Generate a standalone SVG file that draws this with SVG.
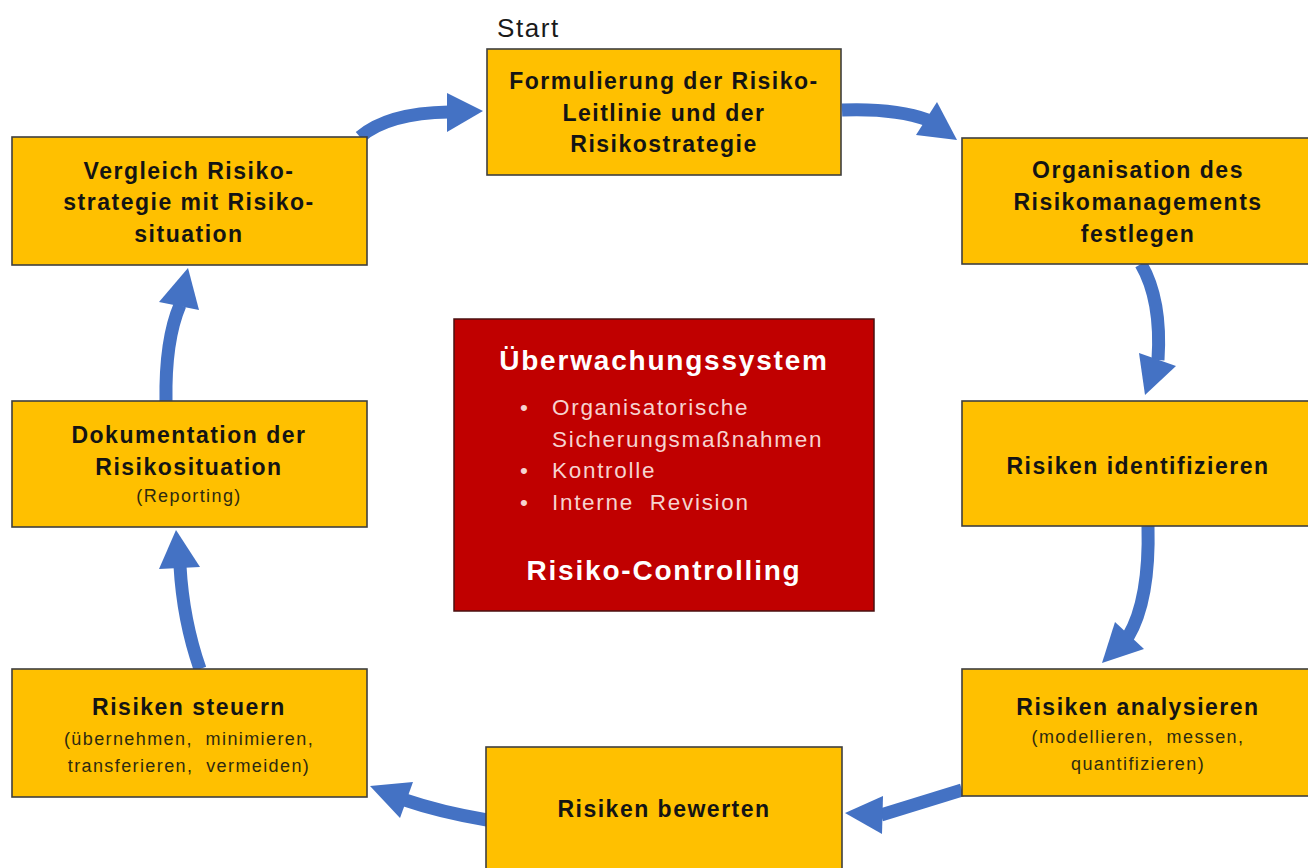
<svg xmlns="http://www.w3.org/2000/svg" width="1308" height="868" viewBox="0 0 1308 868">
<style>
.box{fill:#FFC000;stroke:#3f3f3f;stroke-width:1.6}
.t{font-family:"Liberation Sans",Arial,sans-serif;font-weight:bold;font-size:23px;letter-spacing:1.5px;fill:#141414;text-anchor:middle}
.s{font-family:"Liberation Sans",Arial,sans-serif;font-size:18px;letter-spacing:1.4px;fill:#2e2a10;text-anchor:middle}
.shaft{fill:none;stroke:#4472C4;stroke-width:13}
.head{fill:#4472C4}
.wt{font-family:"Liberation Sans",Arial,sans-serif;font-weight:bold;font-size:28px;letter-spacing:1.8px;fill:#ffffff;text-anchor:middle}
.wl{font-family:"Liberation Sans",Arial,sans-serif;font-size:22.5px;letter-spacing:1.7px;fill:#f6d3d0}
</style>
<rect width="1308" height="868" fill="#ffffff"/>
<g id="connectors">
<path class="shaft" d="M 360 137 Q 388 113 449 112"/>
<polygon class="head" points="483,111 447,93 447,132"/>
<path class="shaft" d="M 842 110 Q 895 108 928 120"/>
<polygon class="head" points="957,140 937,102 916,135"/>
<path class="shaft" d="M 1141 264 Q 1162 300 1158 360"/>
<polygon class="head" points="1145,395 1139,353 1176,366"/>
<path class="shaft" d="M 1148 526 Q 1150 600 1128 637"/>
<polygon class="head" points="1102,663 1115,622 1144,649"/>
<path class="shaft" d="M 962 790 Q 920 803 881 815"/>
<polygon class="head" points="845,813 883,796 882,834"/>
<path class="shaft" d="M 487 820 Q 440 812 405 800"/>
<polygon class="head" points="370,786 413,782 400,818"/>
<path class="shaft" d="M 200 669 Q 183 620 180 566"/>
<polygon class="head" points="176,530 159,569 200,567"/>
<path class="shaft" d="M 166 401 Q 165 340 180 305"/>
<polygon class="head" points="188,268 159,302 199,310"/>
</g>
<text x="497" y="37" font-family="Liberation Sans, Arial, sans-serif" font-size="26" letter-spacing="1.6" fill="#1a1a1a">Start</text>
<g id="n1">
<rect class="box" x="487" y="49" width="354" height="126"/>
<text class="t" x="664" y="89">Formulierung der Risiko-</text>
<text class="t" x="664" y="121">Leitlinie und der</text>
<text class="t" x="664" y="152">Risikostrategie</text>
</g>
<g id="n2">
<rect class="box" x="962" y="138" width="356" height="126"/>
<text class="t" x="1138" y="178">Organisation des</text>
<text class="t" x="1138" y="210">Risikomanagements</text>
<text class="t" x="1138" y="242">festlegen</text>
</g>
<g id="n3">
<rect class="box" x="962" y="401" width="356" height="125"/>
<text class="t" x="1138" y="474">Risiken identifizieren</text>
</g>
<g id="n4">
<rect class="box" x="962" y="669" width="356" height="127"/>
<text class="t" x="1138" y="715">Risiken analysieren</text>
<text class="s" x="1138" y="743" xml:space="preserve">(modellieren,  messen,</text>
<text class="s" x="1138" y="770">quantifizieren)</text>
</g>
<g id="n5">
<rect class="box" x="486" y="747" width="356" height="130"/>
<text class="t" x="664" y="817">Risiken bewerten</text>
</g>
<g id="n6">
<rect class="box" x="12" y="669" width="355" height="128"/>
<text class="t" x="189" y="715">Risiken steuern</text>
<text class="s" x="189" y="745" xml:space="preserve">(übernehmen,  minimieren,</text>
<text class="s" x="189" y="772" xml:space="preserve">transferieren,  vermeiden)</text>
</g>
<g id="n7">
<rect class="box" x="12" y="401" width="355" height="126"/>
<text class="t" x="189" y="443">Dokumentation der</text>
<text class="t" x="189" y="475">Risikosituation</text>
<text class="s" x="189" y="502">(Reporting)</text>
</g>
<g id="n8">
<rect class="box" x="12" y="137" width="355" height="128"/>
<text class="t" x="189" y="179">Vergleich Risiko-</text>
<text class="t" x="189" y="210">strategie mit Risiko-</text>
<text class="t" x="189" y="242">situation</text>
</g>
<g id="center">
<rect x="454" y="319" width="420" height="292" fill="#C00000" stroke="#4a1010" stroke-width="1.5"/>
<text class="wt" x="664" y="370">Überwachungssystem</text>
<text class="wl" x="520" y="415">•</text>
<text class="wl" x="552" y="415">Organisatorische</text>
<text class="wl" x="552" y="447">Sicherungsmaßnahmen</text>
<text class="wl" x="520" y="478">•</text>
<text class="wl" x="552" y="478">Kontrolle</text>
<text class="wl" x="520" y="510">•</text>
<text class="wl" x="552" y="510" xml:space="preserve">Interne  Revision</text>
<text class="wt" x="664" y="580">Risiko-Controlling</text>
</g>
</svg>
